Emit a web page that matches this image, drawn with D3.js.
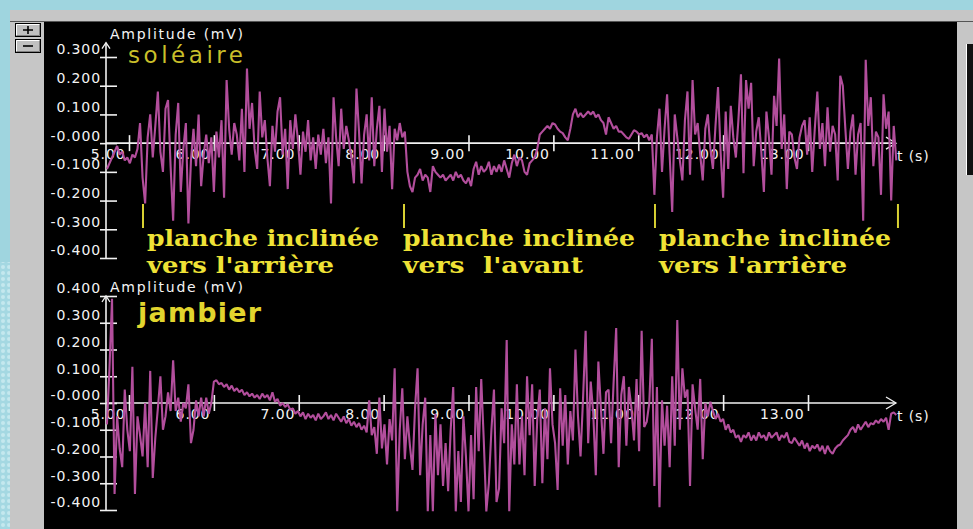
<!DOCTYPE html>
<html>
<head>
<meta charset="utf-8">
<script src="https://cdn.jsdelivr.net/npm/d3@7"></script>
<style>
  html, body { margin: 0; padding: 0; background: #9fd5df; overflow: hidden; }
  svg { display: block; }
  .phase { white-space: pre; }
</style>
</head>
<body>
<svg id="chart" width="973" height="529"></svg>
<script>
// EMG recording: two muscles, sampled every 30 ms from t = 4.74 s
const timeStart = 4.74;   // s
const sampleStep = 0.03;  // s

// soléaire amplitude (mV)
const soleaire = [
  -0.09,-0.07,-0.05,-0.03,-0.01,-0.04,-0.03,-0.06,-0.05,-0.07,-0.04,-0.05,-0.02,
  0.07,-0.12,-0.21,0.02,0.10,-0.05,0.06,0.18,-0.03,-0.10,
  0.12,0.15,-0.08,-0.27,0.03,0.14,-0.17,-0.02,0.07,-0.28,
  -0.06,0.05,-0.08,0.10,-0.15,-0.04,0.03,-0.07,0.02,-0.17,
  0.04,-0.05,0.08,-0.19,0.22,0.05,-0.04,0.07,0.03,-0.06,
  0.12,-0.10,0.26,0.05,0.14,-0.02,-0.09,0.18,0.02,0.08,
  -0.05,-0.15,0.06,-0.03,0.11,0.16,-0.04,0.05,-0.16,0.08,
  -0.02,0.10,0.01,-0.11,0.04,-0.03,0.08,-0.06,0.02,-0.09,
  0.03,-0.04,0.05,-0.07,0.02,-0.21,0.16,0.02,-0.08,0.12,
  -0.02,0.06,0.01,-0.05,-0.14,0.19,0.04,-0.14,0.03,0.10,
  -0.06,0.16,-0.08,0.05,0.13,-0.10,0.12,-0.03,0.06,-0.16,
  0.05,0.01,0.07,0.02,0.04,
  -0.10,-0.15,-0.17,-0.12,-0.11,-0.09,-0.13,-0.11,-0.12,-0.17,
  -0.08,-0.10,-0.11,-0.12,-0.11,-0.13,-0.12,-0.11,-0.13,-0.10,
  -0.12,-0.11,-0.13,-0.14,-0.12,-0.15,-0.09,-0.065,-0.11,-0.08,
  -0.10,-0.09,-0.065,-0.11,-0.08,-0.10,-0.075,-0.10,-0.06,-0.09,
  -0.12,-0.07,-0.04,-0.08,-0.05,-0.06,-0.10,-0.11,-0.07,-0.06,
  -0.05,-0.02,0.03,0.04,0.05,0.06,0.05,0.07,0.065,0.05,
  0.04,0.035,0.02,0.01,0.05,0.10,0.12,0.09,0.105,0.09,
  0.10,0.11,0.10,0.11,0.09,0.10,0.08,0.07,0.03,0.09,
  0.07,0.05,0.06,0.04,0.04,0.03,0.02,0.015,0.03,0.045,
  0.04,0.03,0.035,0.02,0.03,0.01,
  0.03,-0.18,0.02,0.12,-0.10,0.05,0.17,-0.04,-0.24,0.10,
  0.02,-0.06,-0.13,0.08,0.18,-0.11,0.22,0.03,0.07,-0.04,
  -0.13,0.05,0.10,-0.02,-0.09,0.06,0.195,-0.03,-0.19,0.11,
  -0.09,0.13,0.02,-0.05,0.08,0.24,-0.105,0.22,0.12,0.21,
  -0.08,0.04,0.09,-0.03,-0.17,0.11,0.02,-0.11,0.165,0.06,
  0.295,-0.02,0.10,-0.16,0.04,0.03,-0.05,-0.09,0.02,0.06,
  0.08,-0.04,0.09,-0.10,0.05,0.18,-0.02,0.07,-0.08,0.125,
  -0.03,0.06,0.03,-0.13,0.235,0.20,0.05,-0.09,0.04,0.10,
  -0.11,0.03,0.07,-0.27,0.29,0.06,0.16,-0.08,0.04,0.02,
  -0.18,0.17,0.05,0.11,-0.20,0.06,-0.06
];

// jambier amplitude (mV)
const jambier = [
  -0.08,0.13,0.39,-0.34,-0.05,-0.17,-0.24,0.05,-0.10,-0.18,
  0.135,-0.34,-0.05,-0.12,-0.20,0.00,-0.24,0.12,-0.28,-0.13,
  -0.02,0.10,-0.10,-0.05,0.04,-0.03,0.16,-0.03,0.02,-0.07,
  0.00,-0.02,0.07,-0.15,-0.10,0.01,-0.05,0.02,-0.05,0.02,
  -0.04,0.00,0.08,
  0.085,0.07,0.075,0.06,0.07,0.05,0.065,0.045,0.055,0.04,
  0.05,0.03,0.04,0.025,0.035,0.02,0.03,0.015,0.035,0.02,
  0.03,0.01,0.04,0.005,0.015,-0.01,0.0,-0.015,-0.005,-0.025,
  -0.02,-0.04,-0.03,-0.05,-0.035,-0.06,-0.04,-0.055,-0.045,-0.065,
  -0.04,-0.06,-0.05,-0.035,-0.06,-0.045,-0.065,-0.04,-0.055,-0.07,
  -0.05,-0.075,-0.06,-0.085,-0.07,-0.09,-0.075,-0.10,-0.085,-0.11,
  0.01,-0.12,-0.09,-0.19,0.02,-0.17,-0.08,-0.23,-0.06,-0.14,
  0.13,-0.405,-0.10,0.055,-0.21,-0.05,-0.16,-0.25,-0.02,0.13,
  -0.27,-0.08,0.02,-0.405,-0.12,-0.405,-0.04,-0.27,-0.08,-0.31,
  -0.15,-0.33,-0.10,0.06,-0.405,-0.18,-0.37,-0.05,-0.20,-0.405,
  -0.12,-0.36,0.06,-0.18,0.09,-0.14,-0.405,-0.30,-0.10,0.05,
  -0.37,-0.32,-0.02,-0.15,0.235,-0.405,-0.08,-0.23,0.07,-0.23,
  -0.05,-0.27,0.10,-0.12,0.07,-0.31,-0.06,0.05,-0.30,-0.02,
  -0.21,0.13,-0.08,-0.15,-0.325,0.055,-0.16,0.03,-0.23,-0.03,
  -0.14,0.20,-0.05,-0.20,0.02,0.27,-0.15,0.08,-0.04,-0.27,
  0.155,-0.02,-0.19,0.04,0.05,-0.15,0.08,0.28,-0.24,0.03,
  0.10,-0.16,0.06,-0.02,-0.14,0.09,-0.18,0.27,-0.09,-0.07,
  0.00,0.24,-0.31,0.06,-0.39,0.01,-0.16,-0.01,-0.24,0.10,
  -0.16,0.31,-0.10,0.13,0.02,0.05,-0.31,0.07,-0.02,-0.10,
  0.09,-0.21,0.00,-0.05,0.005,-0.03,-0.06,-0.04,-0.07,-0.06,
  -0.10,-0.08,-0.11,-0.10,-0.13,-0.12,-0.145,-0.12,-0.13,-0.11,
  -0.14,-0.12,-0.14,-0.11,-0.13,-0.12,-0.14,-0.11,-0.13,-0.12,
  -0.11,-0.14,-0.12,-0.13,-0.11,-0.145,-0.15,-0.13,-0.145,-0.16,
  -0.14,-0.17,-0.15,-0.18,-0.16,-0.17,-0.155,-0.18,-0.16,-0.19,
  -0.16,-0.18,-0.19,-0.17,-0.16,-0.155,-0.14,-0.13,-0.12,-0.10,
  -0.09,-0.11,-0.08,-0.10,-0.085,-0.07,-0.09,-0.075,-0.08,-0.065,
  -0.075,-0.06,-0.07,-0.055,-0.10,-0.04,-0.035,-0.045
];

const timeTicks = [5, 6, 7, 8, 9, 10, 11, 12, 13];
const timeTickLabels = ["5.00", "6.00", "7.00", "8.00", "9.00", "10.00", "11.00", "12.00", "13.00"];

const soleaireTicks = [0.3, 0.2, 0.1, 0, -0.1, -0.2, -0.3, -0.4];
const soleaireTickLabels = ["0.300", "0.200", "0.100", "-0.000", "-0.100", "-0.200", "-0.300", "-0.400"];

const jambierTicks = [0.4, 0.3, 0.2, 0.1, 0, -0.1, -0.2, -0.3, -0.4];
const jambierTickLabels = ["0.400", "0.300", "0.200", "0.100", "-0.000", "-0.100", "-0.200", "-0.300", "-0.400"];

// platform phases: boundary times and captions
const phaseBounds = [5.165, 8.24, 11.197, 14.06];
const phaseCaptions = [
  ["planche inclinée", "vers l'arrière"],
  ["planche inclinée", "vers  l'avant"],
  ["planche inclinée", "vers l'arrière"]
];

const svg = d3.select("#chart");
const W = 973, H = 529;

// ---- window chrome ----
const defs = svg.append("defs");
const pat = defs.append("pattern").attr("id", "dots")
  .attr("width", 6).attr("height", 6).attr("patternUnits", "userSpaceOnUse");
pat.append("rect").attr("width", 6).attr("height", 6).attr("fill", "#a4d8e2");
pat.append("circle").attr("cx", 3).attr("cy", 3).attr("r", 2).attr("fill", "#c4e8ee");

svg.append("rect").attr("x", 0).attr("y", 0).attr("width", W).attr("height", H).attr("fill", "#9fd5df");
svg.append("rect").attr("x", 0).attr("y", 262).attr("width", 10).attr("height", H - 262).attr("fill", "url(#dots)");
svg.append("rect").attr("x", 10).attr("y", 10).attr("width", W - 10).attr("height", H - 10).attr("fill", "#c6c6c6");
svg.append("line").attr("x1", 10).attr("x2", W).attr("y1", 21.5).attr("y2", 21.5).attr("stroke", "#555").attr("stroke-width", 1);
svg.append("rect").attr("x", 44).attr("y", 22).attr("width", 913).attr("height", H - 22).attr("fill", "#000");
// side bar on the right
svg.append("rect").attr("x", 966).attr("y", 44).attr("width", 7).attr("height", 131).attr("fill", "#111");
svg.append("line").attr("x1", 966.5).attr("x2", 966.5).attr("y1", 44).attr("y2", 175).attr("stroke", "#fff");

// zoom buttons
[["+", 23], ["−", 39]].forEach(([sym, by]) => {
  const b = svg.append("g").attr("transform", `translate(15,${by})`);
  b.append("rect").attr("x", 0.5).attr("y", 0.5).attr("width", 25).attr("height", 13)
    .attr("fill", "#c0c0c0").attr("stroke", "#000");
  b.append("path").attr("d", "M1.5,12.5V1.5H24.5").attr("fill", "none").attr("stroke", "#fff");
  b.append("path").attr("d", "M1.5,12.5H24.5V1.5").attr("fill", "none").attr("stroke", "#808080");
  if (sym === "+") {
    b.append("path").attr("d", "M8,7H18M13,3V11").attr("stroke", "#000").attr("stroke-width", 1.6);
  } else {
    b.append("path").attr("d", "M8,7H18").attr("stroke", "#000").attr("stroke-width", 1.6);
  }
});

// ---- shared time scale ----
const x = d3.scaleLinear().domain([5, 13]).range([129, 808]);
const axisLeftX = 106;
const axisEndX = 896;
const tOf = i => timeStart + i * sampleStep;

const fontAxis = "DejaVu Sans, Verdana, sans-serif";

function drawPanel(cfg) {
  const y = d3.scaleLinear().domain([-0.4, cfg.yMax]).range(cfg.range);
  const y0 = y(0);
  const g = svg.append("g");

  // vertical axis
  const yAxis = d3.axisLeft(y).tickValues(cfg.ticks).tickSize(0)
    .tickFormat((d, i) => cfg.tickLabels[i]);
  const ya = g.append("g").attr("transform", `translate(${axisLeftX},0)`).call(yAxis);
  ya.select(".domain").remove();
  ya.selectAll(".tick line").attr("x1", -6).attr("x2", 11).attr("stroke", "#f2f2f2").attr("stroke-width", 1.6);
  ya.selectAll(".tick text").attr("x", -5).attr("dy", "-0.22em")
    .attr("fill", "#f4f4f4").attr("font-family", fontAxis).attr("font-size", 14)
    .attr("letter-spacing", 0.9).attr("text-anchor", "end");
  const yTop = y(cfg.axisTop);
  g.append("line").attr("x1", axisLeftX).attr("x2", axisLeftX).attr("y1", yTop).attr("y2", y(-0.4))
    .attr("stroke", "#f2f2f2").attr("stroke-width", 1.6);
  g.append("path").attr("d", `M${axisLeftX - 4},${yTop + 6}L${axisLeftX},${yTop}L${axisLeftX + 4},${yTop + 6}`)
    .attr("fill", "none").attr("stroke", "#f2f2f2").attr("stroke-width", 1.3);
  g.append("text").attr("x", 110).attr("y", yTop - 4)
    .attr("fill", "#f4f4f4").attr("font-family", fontAxis).attr("font-size", 14)
    .attr("textLength", 133).attr("lengthAdjust", "spacing")
    .text("Amplitude (mV)");

  // time axis through zero
  const xAxis = d3.axisBottom(x).tickValues(timeTicks).tickSize(0)
    .tickFormat((d, i) => timeTickLabels[i]);
  const xa = g.append("g").attr("transform", `translate(0,${y0})`).call(xAxis);
  xa.select(".domain").remove();
  xa.selectAll(".tick line").attr("y1", -8).attr("y2", 8).attr("stroke", "#f2f2f2").attr("stroke-width", 1.6);
  xa.selectAll(".tick text").attr("x", -4).attr("y", 6).attr("dy", "0.71em")
    .attr("fill", "#f4f4f4").attr("font-family", fontAxis).attr("font-size", 14)
    .attr("letter-spacing", 0.9).attr("text-anchor", "end");
  g.append("line").attr("x1", axisLeftX).attr("x2", axisEndX).attr("y1", y0).attr("y2", y0)
    .attr("stroke", "#f2f2f2").attr("stroke-width", 1.6);
  g.append("path").attr("d", `M${axisEndX - 10},${y0 - 6}L${axisEndX},${y0}L${axisEndX - 10},${y0 + 6}`)
    .attr("fill", "none").attr("stroke", "#f2f2f2").attr("stroke-width", 1.3);
  g.append("text").attr("x", axisEndX + 1).attr("y", y0 + 18)
    .attr("fill", "#f4f4f4").attr("font-family", fontAxis).attr("font-size", 14)
    .attr("letter-spacing", 0.9).text("t (s)");

  // muscle name
  g.append("text").attr("x", cfg.nameX).attr("y", cfg.nameY)
    .attr("fill", cfg.nameColor).attr("font-family", "DejaVu Sans, Verdana, sans-serif")
    .attr("font-size", cfg.nameSize).attr("font-weight", cfg.nameWeight)
    .attr("textLength", cfg.nameWidth).attr("lengthAdjust", "spacing")
    .text(cfg.name);

  // EMG trace
  const line = d3.line().x((d, i) => x(tOf(i))).y(d => y(d));
  g.append("path").datum(cfg.values).attr("d", line)
    .attr("fill", "none").attr("stroke", "#b24e9c").attr("stroke-width", 2.1)
    .attr("stroke-linejoin", "bevel");
  return { g, y };
}

drawPanel({
  values: soleaire, yMax: 0.3, range: [258, 57], axisTop: 0.35,
  ticks: soleaireTicks, tickLabels: soleaireTickLabels,
  name: "soléaire", nameX: 128, nameY: 63, nameColor: "#c9bf2a", nameSize: 23, nameWeight: 400, nameWidth: 115
});

drawPanel({
  values: jambier, yMax: 0.4, range: [510, 296], axisTop: 0.4,
  ticks: jambierTicks, tickLabels: jambierTickLabels,
  name: "jambier", nameX: 138, nameY: 322, nameColor: "#e2d52e", nameSize: 27, nameWeight: 700, nameWidth: 123
});

// ---- phase markers and captions ----
const phase = svg.append("g");
phaseBounds.forEach(t => {
  phase.append("line").attr("x1", x(t)).attr("x2", x(t)).attr("y1", 204).attr("y2", 228)
    .attr("stroke", "#d8d032").attr("stroke-width", 2);
});
const captionWidths = [[232, 187], [232, 180], [232, 188]];
phaseCaptions.forEach((lines, k) => {
  const x0 = x(phaseBounds[k]) + (k === 1 ? -1 : 4);
  lines.forEach((txt, j) => {
    phase.append("text").attr("class", "phase")
      .attr("x", x0).attr("y", 246 + j * 27)
      .attr("fill", "#efe236").attr("font-family", "DejaVu Serif, serif")
      .attr("font-weight", 700).attr("font-size", 22)
      .attr("textLength", captionWidths[k][j]).attr("lengthAdjust", "spacingAndGlyphs")
      .text(txt);
  });
});
</script>
</body>
</html>
